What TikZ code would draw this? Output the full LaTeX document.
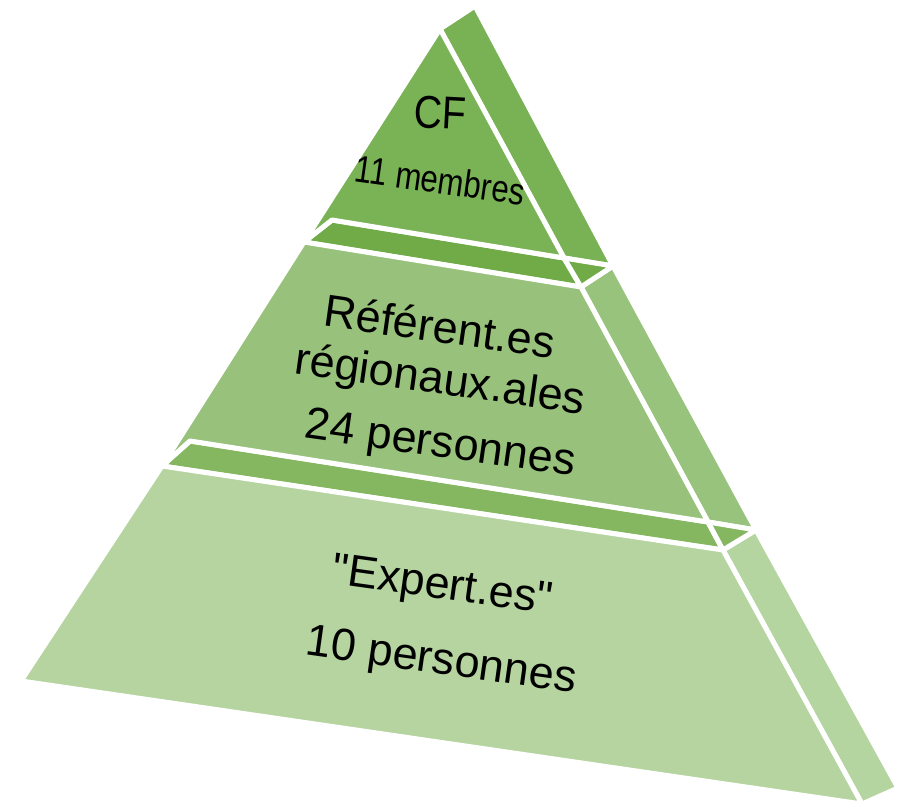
\documentclass[tikz,border=0pt]{standalone}
\usepackage{fontspec}
\newfontfamily\pyrfont{Liberation Sans}
\definecolor{cffront}{RGB}{122,178,86}
\definecolor{cfside}{RGB}{121,177,85}
\definecolor{midfront}{RGB}{152,194,124}
\definecolor{midside}{RGB}{152,195,125}
\definecolor{midtop}{RGB}{112,171,72}
\definecolor{lowfront}{RGB}{181,212,160}
\definecolor{lowside}{RGB}{181,213,160}
\definecolor{lowtop}{RGB}{132,183,96}
\begin{document}
\begin{tikzpicture}[x=0.5pt,y=-0.5pt,face/.style={draw=white,line width=2.5pt,line join=round},lbl/.style={inner sep=0pt,rotate=-8,font=\pyrfont\fontsize{22.5}{27}\selectfont}]
\useasboundingbox (0,0) rectangle (912,807);
\coordinate (top) at (440,29);
\coordinate (topback) at (475,6);
\coordinate (a2) at (304,242);
\coordinate (a2e) at (332,220);
\coordinate (b2) at (581,287);
\coordinate (b2e) at (613,266);
\coordinate (m1) at (564,258);
\coordinate (a3) at (162,466);
\coordinate (a3e) at (190,441);
\coordinate (b3) at (723,550);
\coordinate (b3e) at (756,530);
\coordinate (m2) at (708,522);
\coordinate (d3) at (21,681);
\coordinate (c3) at (862,804);
\coordinate (c3e) at (898,788);
% side faces
\draw [face,fill=cfside] (top) -- (topback) -- (b2e) -- (m1) -- cycle;
\draw [face,fill=midside] (b2) -- (b2e) -- (b3e) -- (m2) -- cycle;
\draw [face,fill=lowside] (b3) -- (b3e) -- (c3e) -- (c3) -- cycle;
% top faces
\draw [face,fill=midtop] (a2) -- (a2e) -- (m1) -- (b2) -- cycle;
\draw [face,fill=midtop] (m1) -- (b2e) -- (b2) -- cycle;
\draw [face,fill=lowtop] (a3) -- (a3e) -- (m2) -- (b3) -- cycle;
\draw [face,fill=lowtop] (m2) -- (b3e) -- (b3) -- cycle;
% front faces
\draw [face,fill=cffront] (top) -- (m1) -- (a2e) -- (a2) -- cycle;
\draw [face,fill=midfront] (a2) -- (b2) -- (m2) -- (a3e) -- (a3) -- cycle;
\draw [face,fill=lowfront] (a3) -- (b3) -- (c3) -- (d3) -- cycle;
\node (cf) [inner sep=0pt,rotate=-3,xscale=0.85,font=\pyrfont\fontsize{23}{27}\selectfont] at (440,113) {CF};
\node (cfcount) [inner sep=0pt,rotate=-8,xscale=0.82,font=\pyrfont\fontsize{19}{23}\selectfont] at (440,180) {11 membres};
\node (ref1) [lbl] at (440,326) {Référent.es};
\node (ref2) [lbl] at (440,382) {régionaux.ales};
\node (refcount) [lbl] at (440,446) {24 personnes};
\node (exp) [lbl] at (442,588) {"Expert.es"};
\node (expcount) [lbl] at (441,663) {10 personnes};
\end{tikzpicture}
\end{document}
